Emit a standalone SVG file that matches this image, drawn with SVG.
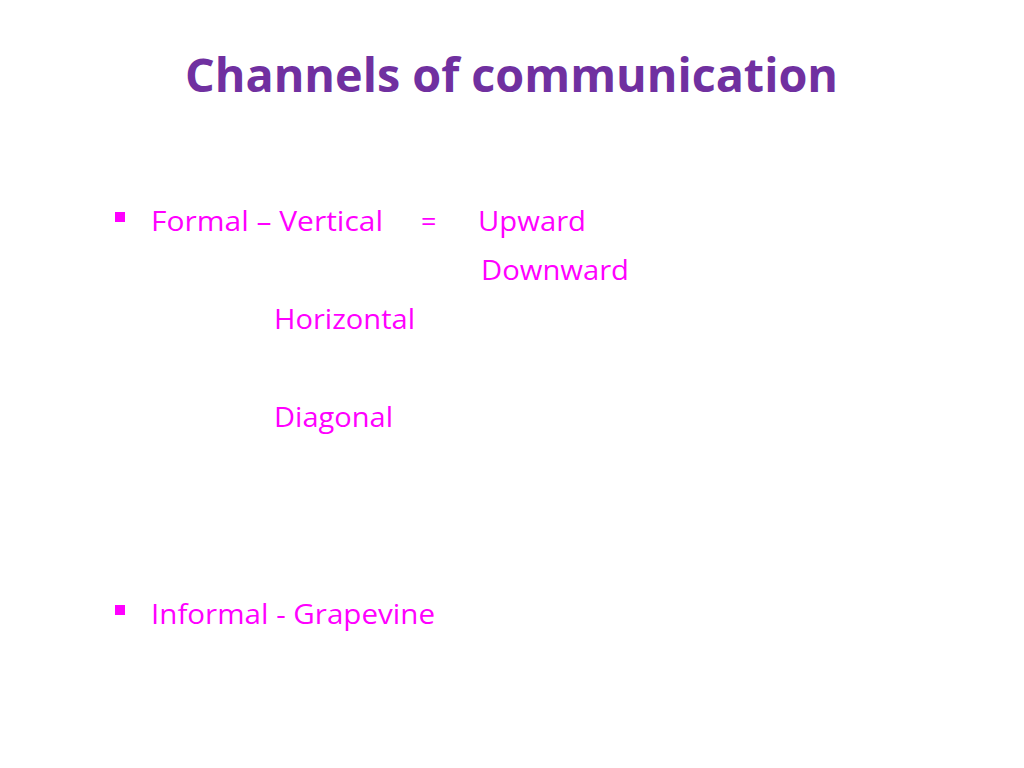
<svg xmlns="http://www.w3.org/2000/svg" width="1024" height="768" viewBox="0 0 1024 768">
<style>
.t{font-family:"Open Sans","Liberation Sans",sans-serif;font-size:27px;fill:#FF00FF}
.b{fill:#FF00FF}
</style>
<rect width="1024" height="768" fill="#fff"/>
<text x="185" y="92" font-family="Open Sans, Liberation Sans, sans-serif" font-weight="bold" font-size="46" fill="#7030A0" textLength="653" lengthAdjust="spacingAndGlyphs">Channels of communication</text>
<rect class="b" x="115" y="212" width="10" height="10"/>
<text class="t" x="151" y="231" textLength="232" lengthAdjust="spacingAndGlyphs">Formal – Vertical</text>
<text class="t" x="421" y="231">=</text>
<text class="t" x="478" y="231" textLength="108" lengthAdjust="spacingAndGlyphs">Upward</text>
<text class="t" x="481" y="280" textLength="148" lengthAdjust="spacingAndGlyphs">Downward</text>
<text class="t" x="274" y="329" textLength="141" lengthAdjust="spacingAndGlyphs">Horizontal</text>
<text class="t" x="274" y="427" textLength="119" lengthAdjust="spacingAndGlyphs">Diagonal</text>
<rect class="b" x="115" y="605" width="10" height="10"/>
<text class="t" x="151" y="624" textLength="284" lengthAdjust="spacingAndGlyphs">Informal - Grapevine</text>
</svg>
